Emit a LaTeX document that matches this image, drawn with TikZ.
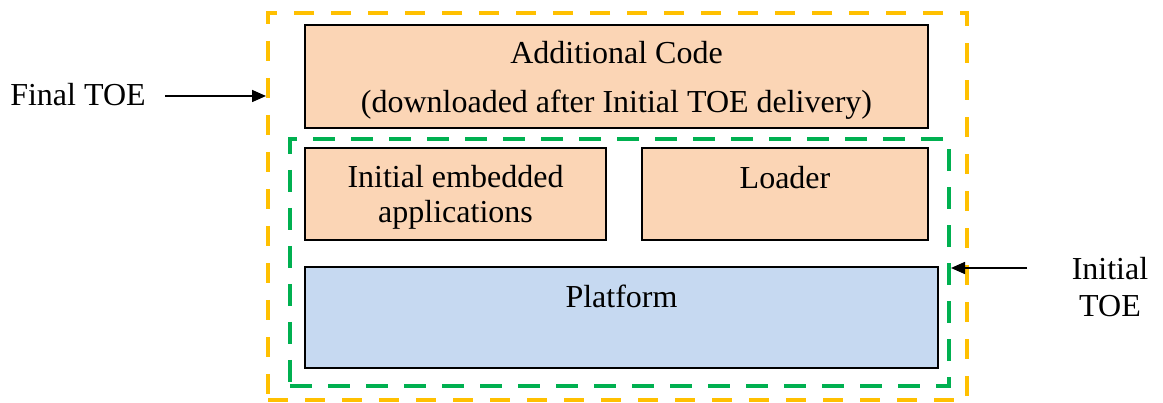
\documentclass[tikz,border=0pt]{standalone}
\usepackage{fontspec}
\setmainfont{Liberation Serif}
\usepackage{tikz}
\usetikzlibrary{arrows.meta,positioning,calc}
\tikzset{every node/.append style={align=center}}
\definecolor{codecolor}{RGB}{251,213,181}
\definecolor{platformcolor}{RGB}{198,217,241}
\definecolor{finalcolor}{RGB}{255,192,0}
\definecolor{initialcolor}{RGB}{0,176,80}

\begin{document}
\begin{tikzpicture}[
    x=1pt, y=1pt,
    every node/.append style={font=\fontsize{32}{37}\selectfont},
    codebox/.style={draw, line width=2pt, fill=codecolor, inner sep=0pt},
    platformbox/.style={draw, line width=2pt, fill=platformcolor, inner sep=0pt},
    finalbound/.style={draw=finalcolor, line width=4pt, dash pattern=on 20pt off 17pt, minimum width=699pt, minimum height=387pt, inner sep=0pt},
    initialbound/.style={draw=initialcolor, line width=4pt, dash pattern=on 22pt off 16pt, minimum width=659pt, minimum height=247pt, inner sep=0pt},
    pointer/.style={-{Triangle[length=14pt,width=12pt]}, line width=1.6pt}
]
    \useasboundingbox (0,0) rectangle (1163,402);

    % Boundaries
    \node[finalbound] (finaltoe) at (617.5, 195.5) {};
    \node[initialbound] (initialtoe) at (619.5, 139.5) {};

    % Components
    \node[codebox, minimum width=623pt, minimum height=103pt] (addcode) at (616.5, 325.5) {\rule{0pt}{30pt}Additional Code\\[12pt](downloaded after Initial TOE delivery)};
    \node[codebox, minimum width=301pt, minimum height=92pt, font=\fontsize{32}{35}\selectfont] (initapps) at (455.5, 208) {\rule{0pt}{28pt}Initial embedded\\applications};
    \node[codebox, minimum width=286pt, minimum height=92pt, font=\fontsize{32}{26}\selectfont] (loader) at (785, 208) {Loader\\\strut};
    \node[platformbox, minimum width=633pt, minimum height=101pt, font=\fontsize{32}{33}\selectfont] (platform) at (621.5, 84.5) {Platform\\\strut};

    % Labels
    \node (finallabel) at (78, 307) {Final TOE};
    \node (initlabel) at (1110, 115) {Initial\\TOE};

    % Pointers
    \coordinate (finalfrom) at (165, 306);
    \coordinate (initfrom) at (1027, 134);
    \draw[pointer] (finalfrom) -- (finalfrom -| finaltoe.west);
    \draw[pointer] (initfrom) -- (initfrom -| initialtoe.east);

\end{tikzpicture}
\end{document}
